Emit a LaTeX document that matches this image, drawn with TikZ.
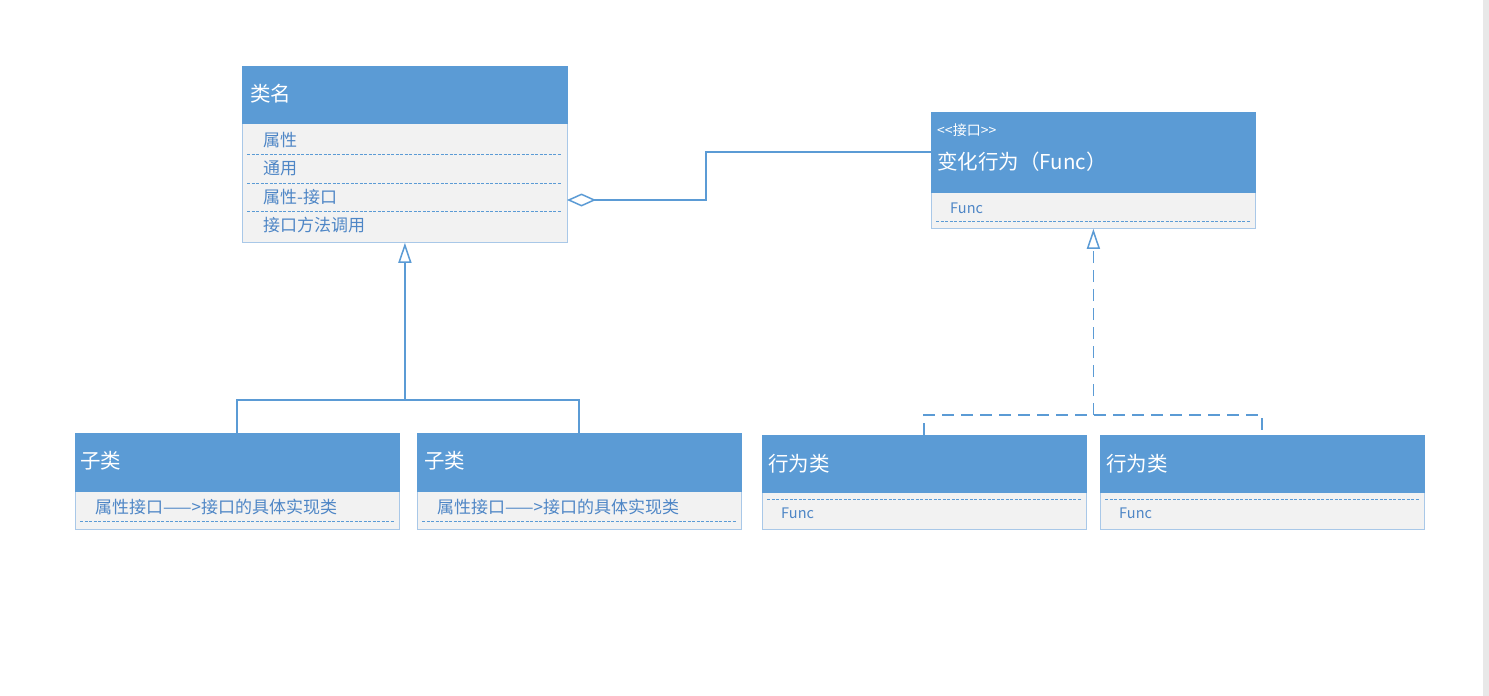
\documentclass[tikz,border=0pt]{standalone}
\usepackage{fontspec}
\setmainfont{Noto Sans CJK SC}
\usetikzlibrary{arrows.meta}
\definecolor{hdrblue}{HTML}{5B9BD5}
\definecolor{bodygrey}{HTML}{F2F2F2}
\definecolor{edgeblue}{HTML}{A9C8E8}
\definecolor{txtblue}{HTML}{4E86C6}
\definecolor{lineblue}{HTML}{5B9BD5}
\definecolor{stripgrey}{HTML}{E8E8E8}
\tikzset{
  hdr/.style={draw=hdrblue, fill=hdrblue, anchor=north west, inner sep=0pt},
  bodybox/.style={draw=edgeblue, fill=bodygrey, anchor=north west, inner sep=0pt, line width=0.8pt},
  htext/.style={anchor=west, text=white, font=\fontsize{20.5}{23}\selectfont, inner sep=0pt},
  stext/.style={anchor=west, text=white, font=\fontsize{14}{16}\selectfont, inner sep=0pt},
  btext/.style={anchor=west, text=txtblue, font=\fontsize{17}{19}\selectfont, inner sep=0pt},
  ftext/.style={anchor=west, text=txtblue, font=\fontsize{14.5}{16}\selectfont, inner sep=0pt},
  sep/.style={draw=hdrblue, line width=1pt, dash pattern=on 3pt off 1.5pt},
  conn/.style={draw=lineblue, line width=1.5pt},
  dconn/.style={draw=lineblue, line width=1.8pt, dash pattern=on 12pt off 7pt},
  opentri/.style={-{Triangle[open, length=20pt, width=13pt, line width=1.5pt]}},
  opendia/.style={{Diamond[open, length=29pt, width=13pt, line width=1.5pt]}-}
}
\begin{document}
\begin{tikzpicture}[x=1pt, y=-1pt]
\useasboundingbox (0,0) rectangle (1489,696);
\fill[white] (0,0) rectangle (1489,696);
\fill[stripgrey] (1483,0) rectangle (1489,696);

% class box
\node[bodybox, minimum width=325pt, minimum height=119pt] (clsb) at (242,123) {};
\node[hdr, minimum width=325pt, minimum height=57pt] (clsh) at (242,66) {};
\node[htext] (clst) at (250,94) {类名};
\node[btext] (a1) at (263,140) {属性};
\node[btext] (a2) at (263,168) {通用};
\node[btext] (a3) at (263,197) {属性-接口};
\node[btext] (a4) at (263,225) {接口方法调用};
\draw[sep] (247,154) -- (562,154);
\draw[sep] (247,183) -- (562,183);
\draw[sep] (247,211) -- (562,211);

% interface box
\node[bodybox, minimum width=324pt, minimum height=36pt] (ifb) at (931,192) {};
\node[hdr, minimum width=324pt, minimum height=80pt] (ifh) at (931,112) {};
\node[stext] (ifs) at (937,130) {{<}{<}接口{>}{>}};
\node[htext] (ift) at (937,162) {变化行为（Func）};
\node[ftext] (iff) at (950,208) {Func};
\draw[sep] (936,221) -- (1250,221);

% subclass boxes
\node[bodybox, minimum width=324pt, minimum height=38pt] (sub1b) at (75,491) {};
\node[hdr, minimum width=324pt, minimum height=58pt] (sub1) at (75,433) {};
\node[htext] (sub1t) at (80,461) {子类};
\node[btext] (sub1a) at (95,507) {属性接口——>接口的具体实现类};
\draw[sep] (80,521) -- (394,521);

\node[bodybox, minimum width=324pt, minimum height=38pt] (sub2b) at (417,491) {};
\node[hdr, minimum width=324pt, minimum height=58pt] (sub2) at (417,433) {};
\node[htext] (sub2t) at (424,461) {子类};
\node[btext] (sub2a) at (437,507) {属性接口——>接口的具体实现类};
\draw[sep] (422,521) -- (736,521);

% behaviour boxes
\node[bodybox, minimum width=324pt, minimum height=37pt] (beh1b) at (762,492) {};
\node[hdr, minimum width=324pt, minimum height=57pt] (beh1) at (762,435) {};
\node[htext] (beh1t) at (768,464) {行为类};
\node[ftext] (beh1f) at (781,513) {Func};
\draw[sep] (767,499) -- (1081,499);

\node[bodybox, minimum width=324pt, minimum height=37pt] (beh2b) at (1100,492) {};
\node[hdr, minimum width=324pt, minimum height=57pt] (beh2) at (1100,435) {};
\node[htext] (beh2t) at (1106,464) {行为类};
\node[ftext] (beh2f) at (1119,513) {Func};
\draw[sep] (1105,499) -- (1419,499);

% aggregation
\coordinate (aggS) at (567,200);
\draw[conn, opendia] (aggS) -- (706,200) |- (ifh.west);

% inheritance
\coordinate (j1) at (clsb.south |- 0,400);
\draw[conn] (sub1.north) |- (j1) -| (sub2.north);
\draw[conn, opentri] (j1) -- (clsb.south);

% realization
\coordinate (j2) at (ifb.south |- 0,415);
\draw[dconn] (beh1.north) |- (j2) -| (beh2.north);
\draw[dconn, opentri] (j2) -- (ifb.south);
\end{tikzpicture}
\end{document}
